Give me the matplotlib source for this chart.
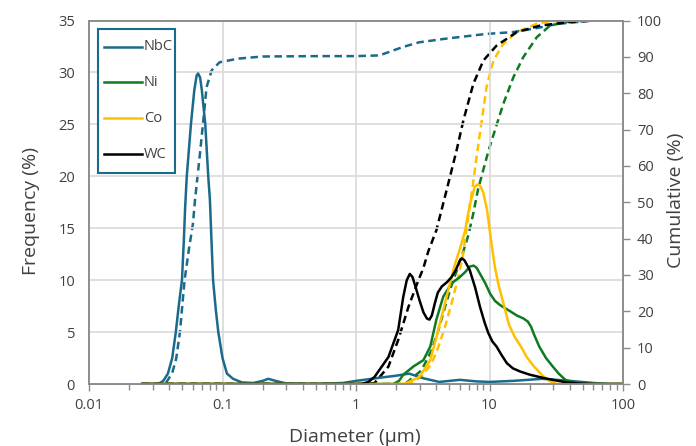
import matplotlib
matplotlib.use("Agg")
import matplotlib.pyplot as plt
from matplotlib.lines import Line2D
from matplotlib.patches import Rectangle
from matplotlib.ticker import FixedLocator, NullFormatter, LogLocator

plt.rcParams['font.family'] = ['Open Sans', 'DejaVu Sans']

# ---------------- data ----------------
series_names = ["NbC", "Ni", "Co", "WC"]

nbc_freq_x = [0.025, 0.033, 0.036, 0.039, 0.042, 0.0447, 0.047, 0.0497, 0.0514, 0.0525, 0.054,
              0.058, 0.0615, 0.064, 0.0656, 0.068, 0.070, 0.0743, 0.0782, 0.0805, 0.082, 0.085,
              0.089, 0.093, 0.100, 0.108, 0.12, 0.14, 0.17, 0.20, 0.22, 0.25, 0.30, 0.5, 0.8,
              1.0, 1.5, 2.0, 2.5, 3.2, 4.2, 6.0, 8.0, 10, 15, 25, 40, 60, 80, 100]
nbc_freq_y = [0, 0, 0.3, 1.0, 2.5, 5.0, 7.5, 10.0, 14.0, 17.0, 20.0,
              25.0, 28.3, 29.7, 29.9, 29.5, 28.3, 25.0, 20.0, 17.7, 15.0, 10.0,
              7.2, 5.0, 2.5, 1.0, 0.5, 0.15, 0.1, 0.3, 0.5, 0.3, 0.05, 0.0, 0.1,
              0.3, 0.6, 0.8, 1.0, 0.55, 0.2, 0.4, 0.25, 0.2, 0.3, 0.5, 0.3, 0.1, 0.0, 0.0]

ni_freq_x = [0.025, 1.9, 2.1, 2.26, 2.7, 3.2, 3.6, 4.0, 4.5, 5.2, 6.0, 6.6, 7.1, 7.6, 8.0,
             8.5, 9.3, 10.1, 11.0, 12.0, 14.3, 16.0, 18.0, 19.4, 20.5, 21.5, 23.6, 26.5,
             29.7, 33, 37, 45, 60, 100]
ni_freq_y = [0, 0, 0.3, 0.9, 1.7, 2.3, 3.6, 6.2, 8.4, 9.7, 10.3, 10.8, 11.3, 11.4, 11.2,
             10.6, 9.7, 8.7, 8.0, 7.6, 7.0, 6.6, 6.3, 6.0, 5.5, 4.8, 3.6, 2.5,
             1.7, 1.0, 0.4, 0.05, 0, 0]

co_freq_x = [0.025, 2.2, 2.4, 3.0, 3.6, 4.0, 4.5, 5.06, 5.5, 6.0, 6.55, 7.1, 7.76, 8.1,
             8.5, 9.0, 9.6, 10.4, 11.0, 11.7, 12.7, 14.0, 15.5, 17.2, 19.0, 21.5, 25,
             28, 32, 100]
co_freq_y = [0, 0, 0.1, 0.7, 2.3, 4.5, 7.1, 9.7, 11.5, 13.0, 14.7, 17.2, 19.0, 19.2,
             19.1, 18.4, 16.7, 13.3, 11.2, 9.5, 7.8, 5.7, 4.5, 3.6, 2.6, 1.7, 0.8,
             0.3, 0, 0]

wc_freq_x = [0.025, 1.1, 1.24, 1.38, 1.75, 2.07, 2.26, 2.4, 2.53, 2.65, 2.8, 3.0, 3.2, 3.4,
             3.55, 3.7, 3.9, 4.1, 4.4, 4.8, 5.2, 5.6, 6.0, 6.2, 6.5, 7.1, 7.8, 8.5, 9.2,
             9.8, 10.5, 11.3, 12.3, 13.5, 15, 17, 20, 25, 29.7, 38, 47, 60, 100]
wc_freq_y = [0, 0, 0.2, 0.7, 2.6, 5.2, 8.4, 10.0, 10.6, 10.3, 9.3, 8.0, 6.9, 6.3,
             6.2, 6.6, 7.8, 8.8, 9.4, 9.8, 10.3, 11.0, 11.9, 12.1, 11.9, 11.0, 9.3, 7.4, 5.9,
             4.9, 4.1, 3.6, 2.8, 2.0, 1.5, 1.2, 0.9, 0.6, 0.4, 0.15, 0.05, 0, 0]

nbc_cum_x = [0.025, 0.036, 0.038, 0.042, 0.045, 0.048, 0.052, 0.056, 0.060, 0.0622, 0.0678,
             0.0718, 0.076, 0.083, 0.095, 0.13, 0.2, 0.5, 1.0, 1.5, 2.24, 2.97, 4.7, 9.4,
             14.9, 21, 33, 60, 100]
nbc_cum_y = [0, 0, 0.5, 3, 7, 14.3, 28.6, 37, 44, 50.5, 63.4,
             72.5, 81.7, 86.3, 88.5, 89.5, 90.1, 90.2, 90.2, 90.4, 92.7, 94.0, 95.0, 96.3,
             96.8, 97.7, 99.1, 100, 100]

ni_cum_x = [0.025, 2.33, 3.1, 3.69, 4.14, 4.64, 5.2, 5.85, 6.37, 6.95, 7.57, 8.2, 9.0, 9.8,
            10.7, 12.7, 15.1, 17.9, 22.6, 28.4, 37.9, 50, 100]
ni_cum_y = [0, 0, 3.8, 9.3, 14.8, 21.2, 27.2, 32.5, 36.5, 41, 47, 53.5, 59, 64,
            68.5, 77.1, 84.4, 89.9, 95.4, 98.6, 99.6, 100, 100]

co_cum_x = [0.025, 2.5, 3.1, 3.69, 4.14, 4.64, 5.2, 5.85, 6.37, 6.55, 7.36, 8.0, 8.75, 9.5,
            10.7, 12.7, 16, 22.6, 28, 40, 100]
co_cum_y = [0, 0, 2, 5.7, 10.2, 15.7, 22.2, 29.5, 36.0, 39.6, 52.5, 62.5, 72.5, 81.7,
            89, 93.6, 96.8, 99.1, 99.8, 100, 100]

wc_cum_x = [0.025, 1.2, 1.38, 1.75, 2.07, 2.47, 2.93, 3.19, 3.48, 4.0, 4.77, 5.67, 6.37,
            7.57, 9.0, 11.3, 16, 23.9, 37.9, 60, 100]
wc_cum_y = [0, 0, 0.3, 4.8, 12.1, 21.2, 28.5, 31.8, 36.5, 42.3, 53.3, 64.3, 72.5,
            82.6, 89, 93.1, 96.8, 98.6, 99.5, 100, 100]

x_tick_vals = [0.01, 0.1, 1, 10, 100]
x_tick_labels = ["0.01", "0.1", "1", "10", "100"]
freq_ticks = [0, 5, 10, 15, 20, 25, 30, 35]
cum_ticks = [0, 10, 20, 30, 40, 50, 60, 70, 80, 90, 100]

colors = {"NbC": "#1a6a8c", "Ni": "#0e7a22", "Co": "#ffc000", "WC": "#000000"}
freq_data = {"NbC": (nbc_freq_x, nbc_freq_y), "Ni": (ni_freq_x, ni_freq_y),
             "Co": (co_freq_x, co_freq_y), "WC": (wc_freq_x, wc_freq_y)}
cum_data = {"NbC": (nbc_cum_x, nbc_cum_y), "Ni": (ni_cum_x, ni_cum_y),
            "Co": (co_cum_x, co_cum_y), "WC": (wc_cum_x, wc_cum_y)}

# ---------------- figure ----------------
W, H = 696, 446
fig = plt.figure(figsize=(W / 100, H / 100), dpi=100)
ax_l, ax_r, ax_t, ax_b = 89, 623, 20.5, 384
ax = fig.add_axes([ax_l / W, (H - ax_b) / H, (ax_r - ax_l) / W, (ax_b - ax_t) / H])
ax2 = ax.twinx()

def ax_x(px):
    return (px - ax_l) / (ax_r - ax_l)

def ax_y(py):
    return (ax_b - py) / (ax_b - ax_t)

text_color = "#404040"
spine_color = "#8c8c8c"
lw = 1.8

for name in series_names:
    x, y = freq_data[name]
    ax.plot(x, y, color=colors[name], lw=lw, solid_joinstyle="round", label=name)
for name in series_names:
    x, y = cum_data[name]
    ax2.plot(x, y, color=colors[name], lw=lw, linestyle=(0, (3.0, 1.8)),
             dash_joinstyle="round")

ax.set_xscale("log")
ax.set_xlim(0.01, 100)
ax.set_ylim(0, 35)
ax2.set_ylim(0, 100)

ax.xaxis.set_major_locator(FixedLocator(x_tick_vals))
ax.set_xticklabels(x_tick_labels)
ax.xaxis.set_minor_locator(LogLocator(base=10, subs=range(2, 10)))
ax.xaxis.set_minor_formatter(NullFormatter())
ax.set_yticks(freq_ticks)
ax2.set_yticks(cum_ticks)

ax.grid(True, which="major", color="#d9d9d9", lw=1.2)
ax.set_axisbelow(True)

for a in (ax, ax2):
    for s in a.spines.values():
        s.set_color(spine_color)
        s.set_linewidth(1.3)

ax.tick_params(axis="x", which="major", direction="out", length=5, width=1, color=spine_color,
               labelsize=10.5, labelcolor=text_color, pad=5)
ax.tick_params(axis="x", which="minor", direction="out", length=4, width=1, color=spine_color)
ax.tick_params(axis="y", length=0, labelsize=10.5, labelcolor=text_color, pad=10)
ax2.tick_params(axis="y", direction="out", length=5, width=1, color=spine_color,
                labelsize=10.5, labelcolor=text_color, pad=5)

ax.set_xlabel("Diameter (μm)", fontsize=14, color=text_color)
ax.set_ylabel("Frequency (%)", fontsize=14, color=text_color)
ax2.set_ylabel("Cumulative (%)", fontsize=14, color=text_color)
ax.xaxis.set_label_coords(ax_x(355), ax_y(428))
ax.yaxis.set_label_coords(ax_x(40), ax_y(211))
ax2.yaxis.set_label_coords(ax_x(667), ax_y(200))

# ---- legend drawn by hand (box 98..175 x 29..173 px) ----
frame = Rectangle((ax_x(98), ax_y(173)), ax_x(175) - ax_x(98), ax_y(29) - ax_y(173),
                  transform=ax.transAxes, facecolor="white", edgecolor=colors["NbC"],
                  lw=1.5, zorder=20, clip_on=False)
ax.add_patch(frame)
leg_rows_px = [47, 82, 118, 154]
for name, ypx in zip(series_names, leg_rows_px):
    ax.add_line(Line2D([ax_x(104), ax_x(142)], [ax_y(ypx), ax_y(ypx)], transform=ax.transAxes,
                       color=colors[name], lw=lw, zorder=21, clip_on=False))
    ax.text(ax_x(144), ax_y(ypx), name, transform=ax.transAxes, fontsize=10.5,
            color=text_color, va="center", ha="left", zorder=22)

ax.set_zorder(ax2.get_zorder() + 1)
ax.patch.set_visible(False)

fig.savefig("out.png", dpi=100)
